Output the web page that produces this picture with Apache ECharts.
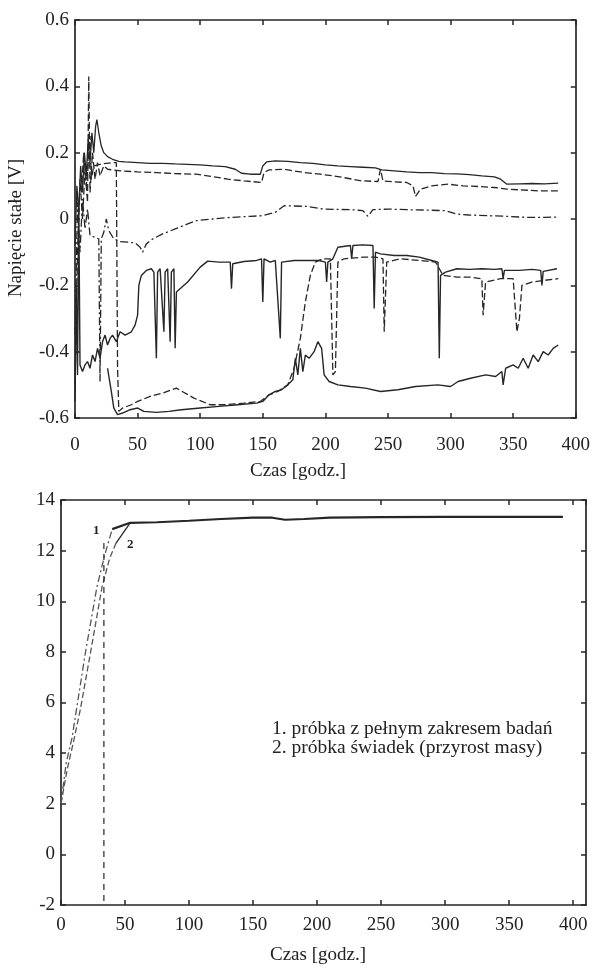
<!DOCTYPE html>
<html>
<head>
<meta charset="utf-8">
<script src="https://cdn.jsdelivr.net/npm/echarts@6/dist/echarts.min.js"></script>
<style>
html,body{margin:0;padding:0;background:#fff;}
#c{width:593px;height:968px;}
</style>
</head>
<body>
<div id="c"></div>
<script>
// ---------- Top panel: Napięcie stałe [V] vs Czas [godz.] ----------
const topXTicks = [0, 50, 100, 150, 200, 250, 300, 350, 400];
const topYTicks = [-0.6, -0.4, -0.2, 0, 0.2, 0.4, 0.6];

const seriesA = [[0,-0.08],[1.5,0.1],[3,0.02],[4.5,0.16],[6,0.08],[7.5,0.2],[9,0.13],[10.5,0.24],[12,0.17],[13.5,0.26],[15,0.2],[16.5,0.28],[17.5,0.3],[19,0.26],[21,0.22],[23,0.2],[26,0.188],[30,0.18],[35,0.174],[40,0.172],[50,0.17],[60,0.168],[70,0.168],[80,0.166],[90,0.165],[100,0.163],[110,0.16],[120,0.158],[128,0.15],[133,0.138],[140,0.135],[148,0.135],[150,0.16],[153,0.172],[160,0.175],[170,0.174],[180,0.17],[190,0.168],[200,0.163],[210,0.16],[220,0.158],[230,0.156],[240,0.154],[245,0.148],[255,0.145],[265,0.142],[275,0.14],[285,0.14],[295,0.137],[305,0.136],[315,0.134],[325,0.13],[335,0.127],[340,0.12],[345,0.105],[355,0.106],[365,0.107],[375,0.106],[386,0.108]];

const seriesB = [[0,-0.5],[2,-0.1],[4,0.12],[6,0.0],[8,0.15],[10,0.05],[11,0.43],[12,0.08],[14,0.2],[16,0.12],[18,0.17],[20,0.13],[23,0.16],[26,0.15],[30,0.148],[37,0.145],[50,0.142],[65,0.14],[80,0.137],[97,0.135],[110,0.128],[122,0.12],[135,0.115],[149,0.11],[151,0.14],[155,0.148],[167,0.15],[183,0.14],[196,0.135],[210,0.128],[229,0.115],[242,0.113],[244,0.15],[246,0.115],[255,0.112],[265,0.11],[270,0.1],[272,0.068],[276,0.09],[285,0.1],[298,0.105],[310,0.1],[322,0.098],[335,0.095],[345,0.09],[355,0.088],[370,0.085],[386,0.085]];

const seriesC = [[0,-0.35],[2,0.05],[4,-0.1],[6,0.06],[8,-0.03],[10,0.03],[12,-0.05],[16,-0.055],[19,-0.06],[20,-0.49],[21,-0.06],[23,-0.04],[25,0.0],[27,-0.035],[31,-0.06],[36,-0.068],[42,-0.07],[48,-0.072],[52,-0.085],[54,-0.1],[57,-0.075],[62,-0.06],[70,-0.045],[80,-0.03],[90,-0.015],[97,-0.005],[110,0.0],[125,0.005],[140,0.008],[150,0.01],[160,0.02],[167,0.04],[185,0.038],[198,0.03],[221,0.028],[230,0.025],[234,0.008],[238,0.028],[250,0.03],[265,0.028],[280,0.027],[296,0.025],[305,0.015],[315,0.012],[330,0.01],[345,0.008],[360,0.005],[375,0.005],[386,0.006]];

const seriesD = [[0,-0.55],[1,-0.2],[2,-0.47],[3,0.05],[4,-0.44],[6,-0.46],[8,-0.44],[10,-0.43],[12,-0.45],[14,-0.41],[16,-0.43],[18,-0.39],[20,-0.42],[22,-0.37],[24,-0.35],[26,-0.38],[28,-0.36],[30,-0.35],[33,-0.37],[36,-0.34],[40,-0.35],[45,-0.34],[48,-0.32],[50,-0.29],[51,-0.2],[53,-0.17],[57,-0.155],[61,-0.15],[63,-0.16],[65,-0.42],[66,-0.16],[68,-0.15],[71,-0.34],[72,-0.16],[74,-0.15],[76,-0.37],[77,-0.16],[79,-0.15],[80,-0.39],[81,-0.22],[90,-0.19],[100,-0.145],[106,-0.127],[115,-0.13],[124,-0.13],[125,-0.21],[126,-0.135],[135,-0.128],[145,-0.125],[149,-0.12],[150,-0.25],[151,-0.12],[156,-0.13],[160,-0.125],[164,-0.36],[165,-0.13],[175,-0.125],[185,-0.125],[195,-0.125],[200,-0.13],[201,-0.19],[202,-0.13],[206,-0.12],[210,-0.085],[220,-0.08],[221,-0.12],[222,-0.08],[230,-0.078],[238,-0.08],[239,-0.27],[240,-0.1],[244,-0.105],[255,-0.11],[265,-0.11],[275,-0.115],[285,-0.125],[290,-0.13],[291,-0.42],[292,-0.17],[296,-0.16],[305,-0.15],[315,-0.152],[325,-0.15],[335,-0.152],[341,-0.15],[342,-0.18],[343,-0.155],[355,-0.155],[365,-0.152],[372,-0.155],[373,-0.2],[374,-0.158],[385,-0.15]];

const seriesD2 = [[5,0.08],[7,0.2],[9,0.1],[10,0.14],[12,0.25],[13,0.12],[15,0.16],[20,0.165],[25,0.168],[30,0.17],[33,0.17],[34,-0.45],[35,-0.58],[38,-0.57],[45,-0.56],[50,-0.55],[60,-0.535],[70,-0.525],[81,-0.51],[95,-0.54],[108,-0.56],[120,-0.56],[135,-0.555],[148,-0.55],[155,-0.53],[162,-0.52],[170,-0.5],[175,-0.45],[180,-0.36],[184,-0.25],[188,-0.17],[192,-0.13],[198,-0.12],[204,-0.12],[206,-0.47],[208,-0.46],[210,-0.13],[215,-0.12],[230,-0.115],[240,-0.115],[246,-0.12],[247,-0.34],[249,-0.13],[260,-0.12],[275,-0.125],[288,-0.13],[294,-0.17],[305,-0.175],[315,-0.175],[325,-0.18],[326,-0.29],[328,-0.19],[340,-0.18],[350,-0.18],[353,-0.34],[355,-0.3],[357,-0.2],[365,-0.19],[375,-0.185],[386,-0.18]];

const seriesE = [[26,-0.45],[29,-0.52],[31,-0.57],[34,-0.59],[38,-0.585],[44,-0.575],[50,-0.57],[55,-0.58],[65,-0.583],[75,-0.58],[85,-0.575],[100,-0.57],[115,-0.565],[130,-0.56],[145,-0.555],[150,-0.55],[155,-0.53],[160,-0.52],[165,-0.515],[170,-0.5],[174,-0.485],[176,-0.42],[178,-0.47],[180,-0.39],[182,-0.46],[184,-0.41],[187,-0.42],[191,-0.4],[194,-0.37],[197,-0.39],[199,-0.47],[203,-0.49],[210,-0.5],[220,-0.505],[232,-0.51],[244,-0.52],[258,-0.515],[272,-0.505],[290,-0.5],[300,-0.505],[306,-0.49],[316,-0.48],[328,-0.47],[336,-0.475],[341,-0.46],[342,-0.5],[344,-0.45],[350,-0.44],[354,-0.45],[358,-0.42],[362,-0.45],[366,-0.41],[370,-0.43],[374,-0.4],[378,-0.41],[382,-0.39],[386,-0.38]];

// ---------- Bottom panel: mass gain vs Czas [godz.] ----------
const botXTicks = [0, 50, 100, 150, 200, 250, 300, 350, 400];
const botYTicks = [-2, 0, 2, 4, 6, 8, 10, 12, 14];

const curve1Rise = [[0,2],[4,3.6],[8.6,4.6],[12,5.7],[19,7.95],[28,10.55],[34,11.8],[40,12.85]];
const curve2Rise = [[0,2],[5,3.4],[10,4.5],[15,5.7],[23,7.95],[32,10.55],[38,11.7],[43,12.3]];
const curve1Plateau = [[40,12.85],[54,13.1],[75,13.12],[100,13.18],[125,13.25],[150,13.3],[165,13.3],[175,13.22],[190,13.25],[210,13.3],[250,13.32],[300,13.33],[350,13.33],[392,13.33]];
const curve2Plateau = [[43,12.3],[54,13.1]];
const witnessDrop = [[33.5,12.3],[33.5,-2]];

const axisTitles = ['Czas [godz.]', 'Napięcie stałe [V]'];
const legendLines = ['1. próbka z pełnym zakresem badań', '2. próbka świadek (przyrost masy)'];
const curveLabels = ['1', '2'];

const FONT = '"Liberation Serif", "DejaVu Serif", serif';
const INK = '#262626';

function fmt1(v){ const r = Math.round(v*10)/10; return r === 0 ? '0' : String(r); }

function mainX(grid, max, margin){
  return {
    type:'value', gridIndex:grid, min:0, max:max, interval:50,
    axisLine:{show:true, onZero:false, lineStyle:{color:INK, width:1.7}},
    axisTick:{show:true, inside:true, length:5, lineStyle:{color:INK, width:1.5}},
    axisLabel:{show:true, margin:margin, color:'#222', fontFamily:FONT, fontSize:19, showMaxLabel: max===400},
    splitLine:{show:false}
  };
}
function mirrorX(grid, max){
  return {
    type:'value', gridIndex:grid, position:'top', min:0, max:max, interval:50,
    axisLine:{show:true, onZero:false, lineStyle:{color:INK, width:1.7}},
    axisTick:{show:true, inside:true, length:5, lineStyle:{color:INK, width:1.5}},
    axisLabel:{show:false}, splitLine:{show:false}
  };
}
function mainY(grid, min, max, interval, formatter){
  return {
    type:'value', gridIndex:grid, min:min, max:max, interval:interval,
    axisLine:{show:true, onZero:false, lineStyle:{color:INK, width:1.7}},
    axisTick:{show:true, inside:true, length:5, lineStyle:{color:INK, width:1.5}},
    axisLabel:{show:true, margin:6, color:'#222', fontFamily:FONT, fontSize:19, formatter:formatter},
    splitLine:{show:false}
  };
}
function mirrorY(grid, min, max, interval){
  return {
    type:'value', gridIndex:grid, position:'right', min:min, max:max, interval:interval,
    axisLine:{show:true, onZero:false, lineStyle:{color:INK, width:1.7}},
    axisTick:{show:true, inside:true, length:5, lineStyle:{color:INK, width:1.5}},
    axisLabel:{show:false}, splitLine:{show:false}
  };
}
function line(data, xi, yi, type, width, color){
  return {
    type:'line', xAxisIndex:xi, yAxisIndex:yi, data:data, showSymbol:false, symbol:'none',
    silent:true, animation:false, smooth:false,
    lineStyle:{color:color||INK, width:width||1.3, type:type||'solid'}
  };
}
function label(text, x, y, font, rot){
  return {type:'text', x:x, y:y, rotation:rot||0,
    style:{text:text, fill:'#222', font:font, align:'center', verticalAlign:'middle',
           textAlign:'center', textVerticalAlign:'middle'}};
}

const chart = echarts.init(document.getElementById('c'), null, {renderer:'canvas'});
chart.setOption({
  backgroundColor:'#ffffff',
  animation:false,
  grid:[
    {left:75, top:20, width:513, height:398},
    {left:61, top:500, width:525, height:405}
  ],
  xAxis:[
    mainX(0, topXTicks[topXTicks.length-1], 18),
    mirrorX(0, topXTicks[topXTicks.length-1]),
    mainX(1, 410, 11),
    mirrorX(1, 410)
  ],
  yAxis:[
    mainY(0, topYTicks[0], topYTicks[topYTicks.length-1], 0.2, fmt1),
    mirrorY(0, topYTicks[0], topYTicks[topYTicks.length-1], 0.2),
    mainY(1, botYTicks[0], botYTicks[botYTicks.length-1], 2, v=>String(Math.round(v))),
    mirrorY(1, botYTicks[0], botYTicks[botYTicks.length-1], 2)
  ],
  series:[
    line(seriesA, 0, 0, 'solid', 1.3),
    line(seriesB, 0, 0, [7,3], 1.3),
    line(seriesC, 0, 0, [8,3,2,3], 1.3),
    line(seriesD, 0, 0, 'solid', 1.4),
    line(seriesD2, 0, 0, [7,3], 1.3),
    line(seriesE, 0, 0, 'solid', 1.4),
    line(curve1Rise, 2, 2, [7,3,2,3], 1.3, '#555'),
    line(curve2Rise, 2, 2, [6,3], 1.3, '#555'),
    line(curve1Plateau, 2, 2, 'solid', 2.2, INK),
    line(curve2Plateau, 2, 2, 'solid', 1.3, INK),
    line(witnessDrop, 2, 2, [6,5], 1.2, INK)
  ],
  graphic:[
    label(axisTitles[0], 298, 471, '19px '+FONT),
    label(axisTitles[0], 318, 955, '19px '+FONT),
    label(axisTitles[1], 16, 228, '19px '+FONT, Math.PI/2),
    {type:'text', left:272, top:719, style:{text:legendLines[0], fill:'#222', font:'19.5px '+FONT}},
    {type:'text', left:272, top:738, style:{text:legendLines[1], fill:'#222', font:'19.5px '+FONT}},
    {type:'text', left:93, top:524, style:{text:curveLabels[0], fill:'#222', font:'bold 13px '+FONT}},
    {type:'text', left:127, top:538, style:{text:curveLabels[1], fill:'#222', font:'bold 13px '+FONT}}
  ]
});
</script>
</body>
</html>
